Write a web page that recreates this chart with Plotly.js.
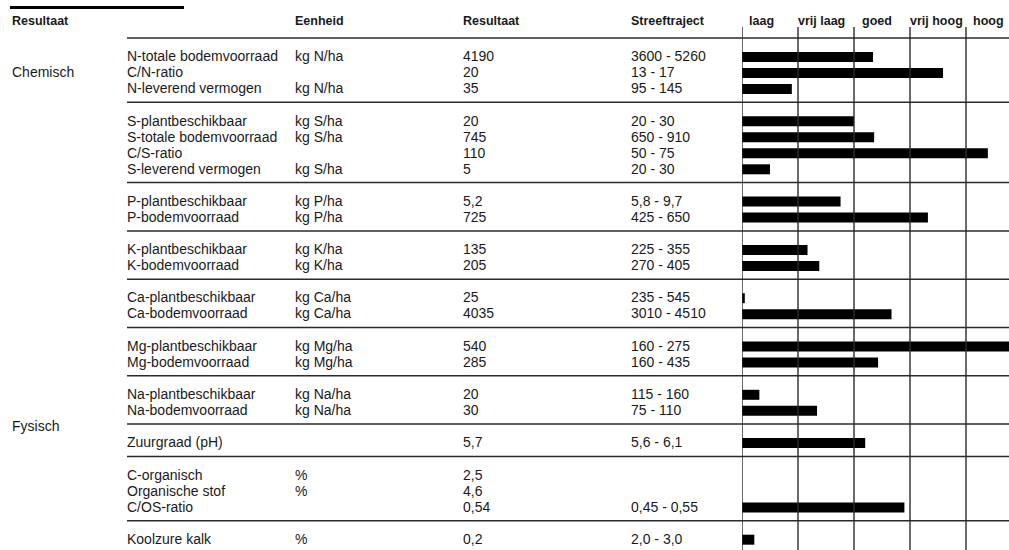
<!DOCTYPE html>
<html><head><meta charset="utf-8">
<script src="https://cdn.plot.ly/plotly-3.0.1.min.js"></script>
<style>html,body{margin:0;padding:0;background:#fff}#chart{width:1009px;height:550px}</style>
</head><body><div id="chart"></div>
<script>
// ---- data ----
const parameters = ['N-totale bodemvoorraad','C/N-ratio','N-leverend vermogen',
  'S-plantbeschikbaar','S-totale bodemvoorraad','C/S-ratio','S-leverend vermogen',
  'P-plantbeschikbaar','P-bodemvoorraad',
  'K-plantbeschikbaar','K-bodemvoorraad',
  'Ca-plantbeschikbaar','Ca-bodemvoorraad',
  'Mg-plantbeschikbaar','Mg-bodemvoorraad',
  'Na-plantbeschikbaar','Na-bodemvoorraad',
  'Zuurgraad (pH)',
  'C-organisch','Organische stof','C/OS-ratio',
  'Koolzure kalk'];
const units = ['kg N/ha','','kg N/ha',
  'kg S/ha','kg S/ha','','kg S/ha',
  'kg P/ha','kg P/ha',
  'kg K/ha','kg K/ha',
  'kg Ca/ha','kg Ca/ha',
  'kg Mg/ha','kg Mg/ha',
  'kg Na/ha','kg Na/ha',
  '',
  '%','%','',
  '%'];
const results = ['4190','20','35',
  '20','745','110','5',
  '5,2','725',
  '135','205',
  '25','4035',
  '540','285',
  '20','30',
  '5,7',
  '2,5','4,6','0,54',
  '0,2'];
const targets = ['3600 - 5260','13 - 17','95 - 145',
  '20 - 30','650 - 910','50 - 75','20 - 30',
  '5,8 - 9,7','425 - 650',
  '225 - 355','270 - 405',
  '235 - 545','3010 - 4510',
  '160 - 275','160 - 435',
  '115 - 160','75 - 110',
  '5,6 - 6,1',
  '','','0,45 - 0,55',
  '2,0 - 3,0'];
// bar length in class units (1 unit = one class column)
const scores = [2.34, 3.59, 0.89,
  2.00, 2.36, 4.39, 0.50,
  1.76, 3.32,
  1.17, 1.38,
  0.05, 2.67,
  5.00, 2.43,
  0.31, 1.34,
  2.20,
  null, null, 2.90,
  0.22];
const groupSizes = [3, 4, 2, 2, 2, 2, 2, 1, 3, 1];
const classes = ['laag', 'vrij laag', 'goed', 'vrij hoog', 'hoog'];
const sections = ['Chemisch', 'Fysisch'];
const headers = ['Resultaat', 'Eenheid', 'Resultaat', 'Streeftraject'];

// ---- layout geometry ----
const W = 1009, H = 550;
const barLeft = 742, classW = 56;
const headerLineY = 38, groupBase = 32.3, rowStep = 16, firstOff = 19;
const colX = {name: 127, unit: 295, result: 463, target: 631};
const padX = 2; // annotation inner padding compensation

const rowY = [], lineY = [headerLineY];
let ly = headerLineY;
groupSizes.forEach((n, gi) => {
  for (let i = 0; i < n; i++) rowY.push(ly + firstOff + i * rowStep);
  ly = ly + groupBase + (n - 1) * rowStep;
  if (gi < groupSizes.length - 1) lineY.push(ly);
});

const font = 'Liberation Sans, Arial, sans-serif';
const txtColor = '#1a1a1a';
const ann = [];
function addText(px, y, text, size, bold, xref) {
  const x = xref === 'x' ? px - padX / classW : (px - padX) / W;
  ann.push({x: x, y: y - 0.8, xref: xref || 'paper', yref: 'y', text: bold ? '<b>' + text + '</b>' : text,
    showarrow: false, xanchor: 'left', yanchor: 'middle',
    font: {family: font, size: size, color: txtColor}});
}
// headers
const hdrY = 22;
addText(12, hdrY, headers[0], 12.5, true);
addText(colX.unit, hdrY, headers[1], 12.5, true);
addText(colX.result, hdrY, headers[2], 12.5, true);
addText(colX.target, hdrY, headers[3], 12.5, true);
const classLabelX = [0.125, 1.0, 2.14, 3.0, 4.125];
classes.forEach((c, i) => addText(classLabelX[i], hdrY, c, 12.5, true, 'x'));
// sections
addText(12, rowY[1], sections[0], 14, false);
addText(12, lineY[7] + 2.5, sections[1], 14, false);
// rows
parameters.forEach((p, i) => {
  addText(colX.name, rowY[i], p, 14, false);
  if (units[i]) addText(colX.unit, rowY[i], units[i], 14, false);
  addText(colX.result, rowY[i], results[i], 14, false);
  if (targets[i]) addText(colX.target, rowY[i], targets[i], 14, false);
});

const shapes = [];
shapes.push({type: 'line', xref: 'paper', yref: 'y', x0: 10 / W, x1: 184 / W, y0: 7.5, y1: 7.5,
  line: {color: '#000', width: 3}});
lineY.forEach(y => shapes.push({type: 'line', xref: 'paper', yref: 'y', x0: colX.name / W, x1: 1,
  y0: y, y1: y, line: {color: '#2a2a2a', width: 1.5}}));
for (let k = 0; k < classes.length; k++) {
  shapes.push({type: 'line', xref: 'x', yref: 'y', x0: k, x1: k, y0: 27, y1: H,
    line: {color: '#2a2a2a', width: 1.4}});
}

const trace = {type: 'bar', orientation: 'h', x: scores, y: rowY, width: 10,
  marker: {color: '#000', line: {width: 0}}, hoverinfo: 'skip'};

const layout = {
  width: W, height: H, margin: {l: 0, r: 0, t: 0, b: 0},
  paper_bgcolor: '#fff', plot_bgcolor: 'rgba(0,0,0,0)', showlegend: false,
  xaxis: {domain: [barLeft / W, 1], range: [0, (W - barLeft) / classW], visible: false, fixedrange: true},
  yaxis: {domain: [0, 1], range: [H, 0], visible: false, fixedrange: true},
  shapes: shapes, annotations: ann
};
Plotly.newPlot('chart', [trace], layout, {staticPlot: true});
</script></body></html>
